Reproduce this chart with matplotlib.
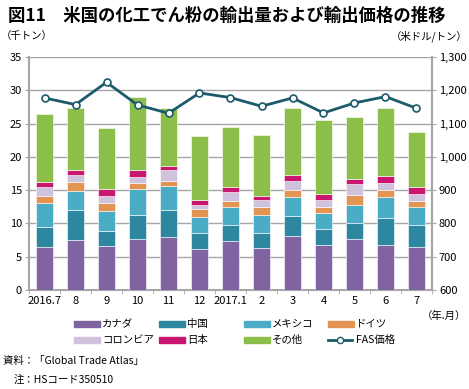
import matplotlib
matplotlib.use("Agg")
import matplotlib.pyplot as plt
import numpy as np
from matplotlib.patches import Rectangle
from matplotlib.lines import Line2D

plt.rcParams['font.family'] = ['Noto Sans CJK JP', 'DejaVu Sans']

# 月
months = ["2016.7", "8", "9", "10", "11", "12", "2017.1", "2", "3", "4", "5", "6", "7"]

# 輸出量（千トン）
canada   = [6.5, 7.5, 6.6, 7.6, 7.9, 6.1, 7.3, 6.3, 8.1, 6.8, 7.6, 6.8, 6.4]
china    = [2.9, 4.5, 2.2, 3.7, 4.1, 2.4, 2.4, 2.3, 3.0, 2.3, 2.5, 4.0, 3.3]
mexico   = [3.6, 2.8, 3.0, 3.8, 3.6, 2.4, 2.7, 2.6, 2.8, 2.4, 2.7, 3.2, 2.7]
germany  = [1.1, 1.4, 1.3, 0.9, 0.8, 1.3, 1.0, 1.2, 1.1, 1.0, 1.5, 1.0, 1.0]
colombia = [1.4, 1.1, 1.0, 1.0, 1.6, 0.6, 1.3, 1.1, 1.4, 1.0, 1.6, 1.0, 1.0]
japan    = [0.7, 0.7, 1.1, 1.0, 0.7, 0.7, 0.7, 0.6, 0.8, 0.9, 0.8, 1.1, 1.0]
others   = [10.2, 9.4, 9.2, 11.0, 8.7, 9.6, 9.1, 9.2, 10.1, 11.1, 9.3, 10.3, 8.3]

# FAS価格（米ドル/トン）
fas = [1177, 1157, 1224, 1156, 1131, 1192, 1178, 1152, 1177, 1132, 1162, 1181, 1146]

series = [canada, china, mexico, germany, colombia, japan, others]
names = ["カナダ", "中国", "メキシコ", "ドイツ", "コロンビア", "日本", "その他"]
colors = ["#8064A2", "#2E87A0", "#4BACC6", "#E39452", "#CFC2DC", "#C9166E", "#8CBF4A"]
line_color = "#1B5B6B"
grid_color = "#A6A6A6"

W, H = 469, 389
fig = plt.figure(figsize=(W / 100, H / 100), dpi=100)
ax = fig.add_axes([29 / W, 1 - 290 / H, 403 / W, 233 / H])

x = np.arange(len(months))
bottom = np.zeros(len(months))
for vals, name, c in zip(series, names, colors):
    ax.bar(x, vals, 0.57, bottom=bottom, color=c, edgecolor="#FFFFFF",
           linewidth=0.4, zorder=3)
    bottom += np.array(vals)

ax.set_xlim(-0.5, len(months) - 0.5)
ax.set_ylim(0, 35)
ax.set_yticks(np.arange(0, 36, 5))
ax.set_xticks(x)
ax.set_xticklabels(months)
ax.set_xticks(np.arange(-0.5, len(months), 1), minor=True)
ax.tick_params(axis='x', which='major', length=0, labelsize=8, pad=4)
ax.tick_params(axis='x', which='minor', length=3, color=grid_color)
ax.tick_params(axis='y', length=3, color=grid_color, labelsize=8, pad=2)
ax.yaxis.grid(True, color=grid_color, linewidth=1.0, zorder=0)
ax.set_axisbelow(True)
ax.spines["top"].set_visible(False)
for s in ["left", "right", "bottom"]:
    ax.spines[s].set_color(grid_color)
    ax.spines[s].set_linewidth(1.5)

ax2 = ax.twinx()
ax2.set_ylim(600, 1300)
ax2.set_yticks(np.arange(600, 1301, 100))
ax2.set_yticklabels([f"{v:,}" for v in range(600, 1301, 100)])
ax2.tick_params(axis='y', length=3, color=grid_color, labelsize=8, pad=2)
for s in ["top", "left", "bottom"]:
    ax2.spines[s].set_visible(False)
ax2.spines["right"].set_color(grid_color)
ax2.spines["right"].set_linewidth(1.5)
ax2.plot(x, fas, color=line_color, linewidth=2, marker='o', markersize=5,
         markerfacecolor='white', markeredgecolor=line_color, markeredgewidth=1.2,
         zorder=5)

fig.text(8 / W, 1 - 16 / H, "図11　米国の化工でん粉の輸出量および輸出価格の推移",
         fontsize=12.5, fontweight='bold', va='center', ha='left')
fig.text(1 / W, 1 - 36 / H, "（千トン）", fontsize=7.5, va='center', ha='left')
fig.text(468 / W, 1 - 36 / H, "（米ドル/トン）", fontsize=7.5, va='center', ha='right')
fig.text(466 / W, 1 - 316 / H, "（年.月）", fontsize=7.5, va='center', ha='right')

# 凡例（手で配置）
col_x = [74, 159, 244, 328]
row_y = [324, 340]
labels = names + ["FAS価格"]
for i, lab in enumerate(labels):
    x0 = col_x[i % 4]
    y0 = row_y[i // 4]
    if i < len(colors):
        fig.add_artist(Rectangle((x0 / W, 1 - (y0 + 3) / H), 26 / W, 6 / H,
                                 color=colors[i], transform=fig.transFigure))
    else:
        fig.add_artist(Line2D([x0 / W, (x0 + 24) / W], [1 - y0 / H, 1 - y0 / H],
                              color=line_color, linewidth=2,
                              transform=fig.transFigure))
        fig.add_artist(Line2D([(x0 + 12) / W], [1 - y0 / H], color=line_color,
                              marker='o', markersize=4.5, markerfacecolor='white',
                              markeredgecolor=line_color, transform=fig.transFigure))
    fig.text((x0 + 28) / W, 1 - y0 / H, lab, fontsize=7.5, va='center', ha='left')

fig.text(3 / W, 1 - 361 / H, "資料：「Global Trade Atlas」", fontsize=7.5, va='center', ha='left')
fig.text(14 / W, 1 - 380 / H, "注：HSコード350510", fontsize=7.5, va='center', ha='left')

fig.savefig("out.png", dpi=100)
